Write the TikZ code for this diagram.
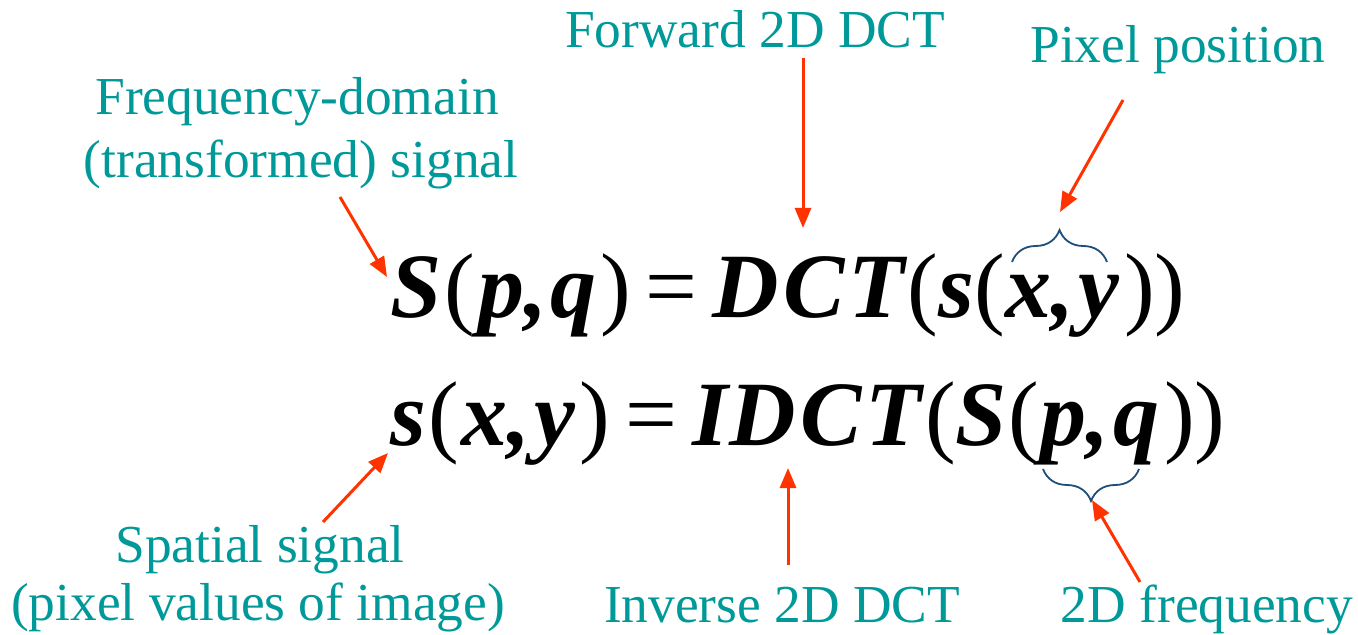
\documentclass[tikz,border=0pt]{standalone}
\usepackage{fontspec}
\setmainfont{Liberation Serif}
\usetikzlibrary{arrows.meta,decorations.pathreplacing}
\definecolor{lblteal}{RGB}{0,153,153}
\definecolor{arrred}{RGB}{255,51,0}
\definecolor{brcblue}{RGB}{31,78,121}
\newcommand{\ur}[1]{{\mdseries\upshape #1}}
\newcommand{\kk}[1]{\kern#1pt\relax}
\begin{document}
\begin{tikzpicture}[x=0.5pt,y=-0.5pt,
  lbl/.style={text=lblteal, font=\fontsize{26.7}{30}\selectfont, inner sep=0pt, anchor=base},
  eq/.style={font=\fontsize{46}{50}\selectfont\bfseries\itshape, inner sep=0pt, anchor=base west},
  arr/.style={draw=arrred, line width=1.5pt, -{Triangle[length=10pt,width=8pt]}},
  brc/.style={draw=brcblue, line width=0.9pt, decorate, decoration={brace, amplitude=16pt}}]
\useasboundingbox (0,0) rectangle (1358,635);
% labels
\node[lbl] (fwd) at (755,48) {Forward 2D DCT};
\node[lbl] (pix) at (1178,63) {Pixel position};
\node[lbl] (freq1) at (297,115) {Frequency-domain};
\node[lbl] (freq2) at (301,178) {(transformed) signal};
\node[lbl] (spat1) at (260,562) {Spatial signal};
\node[lbl] (spat2) at (258,620) {(pixel values of image)};
\node[lbl] (inv) at (782,622) {Inverse 2D DCT};
\node[lbl] (twod) at (1207,622) {2D frequency};
% equations
\node[eq] (e1a) at (390,318) {S\kk{1.5}\ur{(}\kk{1.5}p,\kk{1.5}q\kk{2}\ur{)}\kk{7.5}\ur{=}\kk{7.5}D\kk{2}C\kk{2}T\kk{1.5}\ur{(}s\ur{(}};
\node[eq] (e1xy) at (e1a.base east) {x,\kk{2}y\kk{2}};
\node[eq] (e1b) at (e1xy.base east) {\ur{))}};
\node[eq] (e2a) at (390,445) {s\kk{1}\ur{(}\kk{1.5}x,\kk{2}y\kk{2}\ur{)}\kk{7.5}\ur{=}\kk{7.5}I\kk{1}D\kk{2}C\kk{2}T\kk{1.5}\ur{(}S\kk{1}\ur{(}};
\node[eq] (e2pq) at (e2a.base east) {p,\kk{2}q\kk{2}};
\node[eq] (e2b) at (e2pq.base east) {\ur{))}};
% arrow end points
\coordinate (a1s) at (340,197); \coordinate (a1e) at (387,277);
\coordinate (a2s) at (803,58);  \coordinate (a2e) at (803,228);
\coordinate (a3s) at (1123,100); \coordinate (a3e) at (1060,212);
\coordinate (a4s) at (323,522); \coordinate (a4e) at (388,453);
\coordinate (a5s) at (788,565); \coordinate (a5e) at (788,468);
\coordinate (a6s) at (1140,582); \coordinate (a6e) at (1092,500);
\draw[arr] (a1s) -- (a1e);
\draw[arr] (a2s) -- (a2e);
\draw[arr] (a3s) -- (a3e);
\draw[arr] (a4s) -- (a4e);
\draw[arr] (a5s) -- (a5e);
\draw[arr] (a6s) -- (a6e);
% braces
\draw[brc] (1012,262) -- (1107,262);
\draw[brc] (1139,469) -- (1043,469);
\end{tikzpicture}
\end{document}
